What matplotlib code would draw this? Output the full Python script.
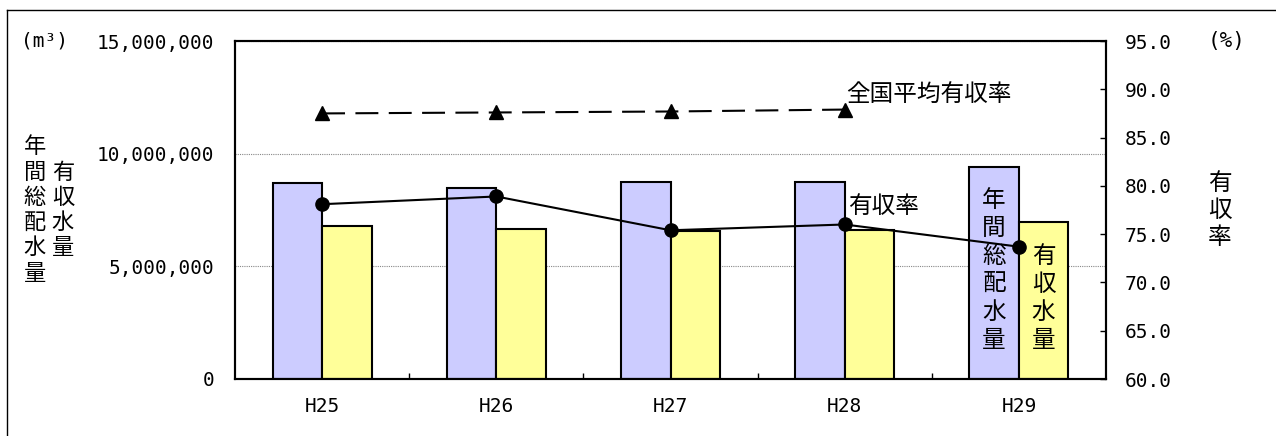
import matplotlib
matplotlib.use("Agg")
import matplotlib.pyplot as plt
from matplotlib.lines import Line2D
from matplotlib.ticker import FixedLocator, FuncFormatter
from matplotlib.transforms import blended_transform_factory

# --- data ---
years = ["H25", "H26", "H27", "H28", "H29"]
distributed = [8700000, 8490000, 8740000, 8740000, 9420000]   # 年間総配水量 (m3)
revenue = [6800000, 6640000, 6580000, 6620000, 6970000]       # 有収水量 (m3)
rate = [78.1, 78.9, 75.4, 76.0, 73.7]                         # 有収率 (%)
national = [87.5, 87.6, 87.7, 87.9]                           # 全国平均有収率 (%), H25-H28

W, H = 1276, 436
JP = ["Noto Sans CJK JP", "DejaVu Sans"]
NUM = ["DejaVu Sans Mono", "Noto Sans CJK JP"]
BLUE = "#CCCCFF"
YELLOW = "#FFFF99"
JSIZE = 17


def fx(px):
    return px / W


def fy(py):
    return 1 - py / H


plt.rcParams.update({
    "font.family": NUM,
    "font.size": 14,
    "axes.linewidth": 1.5,
})

fig = plt.figure(figsize=(W / 100, H / 100), dpi=100)
ax = fig.add_axes([fx(235), fy(379), fx(1106) - fx(235), fy(41) - fy(379)])
ax2 = ax.twinx()

x = list(range(len(years)))
bw = 0.284

ax.bar([i - bw / 2 for i in x], distributed, width=bw, color=BLUE,
       edgecolor="black", linewidth=1.5, zorder=2)
ax.bar([i + bw / 2 for i in x], revenue, width=bw, color=YELLOW,
       edgecolor="black", linewidth=1.5, zorder=2)

ax.set_xlim(-0.5, len(years) - 0.5)
ax.set_ylim(0, 15000000)
ax.set_yticks([0, 5000000, 10000000, 15000000])
ax.yaxis.set_major_formatter(FuncFormatter(lambda v, p: f"{int(v):,}"))
ax.tick_params(axis="y", length=0, pad=15, labelsize=14)
ax.set_axisbelow(True)
ax.yaxis.grid(True, linestyle=(0, (1, 1)), color="#888888", linewidth=0.8)

ax.set_xticks(x)
ax.set_xticklabels(years)
ax.tick_params(axis="x", length=0, pad=13, labelsize=14)
ax.xaxis.set_minor_locator(FixedLocator([i + 0.5 for i in x[:-1]]))
ax.tick_params(axis="x", which="minor", direction="in", length=4, width=1)

ax2.plot(x, rate, color="black", linewidth=1.5, marker="o", markersize=9.5, zorder=4)
ax2.plot(x[:len(national)], national, color="black", linewidth=1.5,
         dashes=(11, 5), marker="^", markersize=10, zorder=4)
ax2.set_ylim(60, 95)
ax2.set_yticks([60, 65, 70, 75, 80, 85, 90, 95])
ax2.yaxis.set_major_formatter(FuncFormatter(lambda v, p: f"{v:.1f}"))
ax2.tick_params(axis="y", direction="in", length=4.5, width=1, pad=13.5, labelsize=14)

for s in ax.spines.values():
    s.set_linewidth(1.5)

# labels next to lines
ax2.text(fx(846), fy(94), "全国平均有収率", transform=fig.transFigure,
         family=JP, fontsize=JSIZE, ha="left", va="center")
ax2.text(fx(848), fy(206.7), "有収率", transform=fig.transFigure,
         family=JP, fontsize=JSIZE, ha="left", va="center")


def vtext(trans, xpos, y0, text, step, size=JSIZE):
    for k, ch in enumerate(text):
        fig.text(xpos, fy(y0 + k * step), ch, transform=trans, family=JP,
                 fontsize=size, ha="center", va="center", zorder=5)


# vertical labels inside the H29 bars
bt = blended_transform_factory(ax.transData, fig.transFigure)
vtext(bt, x[-1] - bw / 2, 200, "年間総配水量", 28)
vtext(bt, x[-1] + bw / 2, 256.7, "有収水量", 27.8)

# axis titles
vtext(fig.transFigure, fx(35), 146.7, "年間総配水量", 25.3, 16)
vtext(fig.transFigure, fx(63), 172, "有収水量", 25.3, 16)
vtext(fig.transFigure, fx(1220), 183, "有収率", 27.5)

fig.text(fx(44.5), fy(41), "(m³)", family=NUM, fontsize=14, ha="center", va="center")
fig.text(fx(1227), fy(41), "(%)", family=NUM, fontsize=15, ha="center", va="center")

# outer frame (top and left edges visible)
fig.add_artist(Line2D([fx(6.5), 1], [fy(10.5), fy(10.5)], color="black", linewidth=1))
fig.add_artist(Line2D([fx(6.5), fx(6.5)], [0, fy(10.5)], color="black", linewidth=1))

fig.savefig("out.png", dpi=100)
